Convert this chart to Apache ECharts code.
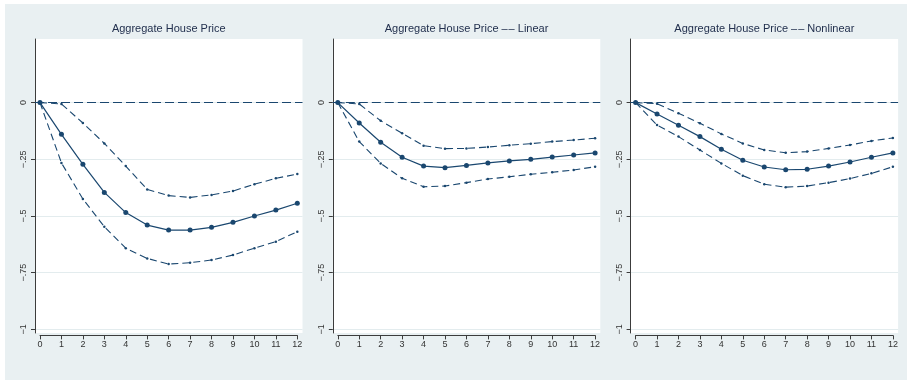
<!DOCTYPE html>
<html>
<head>
<meta charset="utf-8">
<script src="https://cdn.jsdelivr.net/npm/echarts@6/dist/echarts.min.js"></script>
<style>
  html, body { margin: 0; padding: 0; background: #ffffff; }
  #chart { width: 907px; height: 380px; }
</style>
</head>
<body>
<div id="chart"></div>
<script>
// Impulse responses of house prices, horizons 0..12
const horizons = [0, 1, 2, 3, 4, 5, 6, 7, 8, 9, 10, 11, 12];

const panelTitles = [
  'Aggregate House Price',
  'Aggregate House Price \u2013\u200a\u2013 Linear',
  'Aggregate House Price \u2013\u200a\u2013 Nonlinear'
];

// Aggregate
const aggIrf   = [0, -0.140, -0.272, -0.396, -0.485, -0.540, -0.562, -0.562, -0.550, -0.528, -0.500, -0.474, -0.444];
const aggUpper = [0, -0.006, -0.090, -0.180, -0.280, -0.383, -0.410, -0.418, -0.407, -0.390, -0.360, -0.334, -0.315];
const aggLower = [0, -0.266, -0.425, -0.547, -0.642, -0.687, -0.712, -0.706, -0.694, -0.672, -0.642, -0.613, -0.569];

// Linear
const linIrf   = [0, -0.090, -0.175, -0.241, -0.280, -0.287, -0.277, -0.266, -0.257, -0.250, -0.240, -0.231, -0.222];
const linUpper = [0, -0.006, -0.080, -0.135, -0.190, -0.203, -0.202, -0.196, -0.188, -0.181, -0.172, -0.165, -0.157];
const linLower = [0, -0.172, -0.268, -0.334, -0.371, -0.368, -0.353, -0.337, -0.327, -0.316, -0.307, -0.297, -0.283];

// Nonlinear
const nonIrf   = [0, -0.050, -0.100, -0.150, -0.206, -0.254, -0.284, -0.296, -0.294, -0.280, -0.262, -0.241, -0.222];
const nonUpper = [0, -0.005, -0.047, -0.091, -0.138, -0.180, -0.209, -0.221, -0.216, -0.202, -0.187, -0.169, -0.156];
const nonLower = [0, -0.099, -0.150, -0.209, -0.268, -0.322, -0.360, -0.373, -0.368, -0.353, -0.335, -0.312, -0.283];

const yTickStep = 0.25;
const yMin = -1;
const yMax = 0;

const panels = [
  { irf: aggIrf, upper: aggUpper, lower: aggLower },
  { irf: linIrf, upper: linUpper, lower: linLower },
  { irf: nonIrf, upper: nonUpper, lower: nonLower }
];

const NAVY = '#1a476f';
const AXIS = '#3c3c3c';
const GRIDLINE = '#e3ecee';
const FONT = 'Liberation Sans, Arial, sans-serif';

function fmtY(v) {
  if (v === 0) return '0';
  const s = String(Math.abs(v)).replace(/^0/, '');
  return (v < 0 ? '\u2212' : '') + s;
}

const pair = (ys) => horizons.map((h, i) => [h, ys[i]]);

const grid = [], xAxis = [], yAxis = [], series = [], title = [];

panels.forEach((p, k) => {
  const L = 35 + 297.8 * k;
  const W = 267.5;
  const base = grid.length;

  // white plot region with the vertical axis line
  grid.push({ left: L, top: 39, width: W, height: 294, show: true,
              backgroundColor: '#ffffff', borderWidth: 0 });
  // y ticks, labels and horizontal rules spanning the plot region
  grid.push({ left: L, top: 102.6, width: W, height: 226.8 });
  // data region: horizon 0..12
  grid.push({ left: L + 5, top: 102.6, width: 257.3, height: 226.8 });

  xAxis.push({ gridIndex: base, type: 'value', min: 0, max: 1, show: false });
  yAxis.push({ gridIndex: base, type: 'value', min: 0, max: 1,
               axisLine: { show: true, onZero: false, lineStyle: { color: AXIS, width: 1 } },
               axisTick: { show: false }, axisLabel: { show: false }, splitLine: { show: false } });

  xAxis.push({ gridIndex: base + 1, type: 'value', min: 0, max: 1, show: false });
  yAxis.push({ gridIndex: base + 1, type: 'value', min: yMin, max: yMax, interval: yTickStep,
               axisLine: { show: false, onZero: false },
               axisTick: { show: true, length: 4, lineStyle: { color: AXIS, width: 1 } },
               axisLabel: { show: true, rotate: 90, margin: 7, fontSize: 9, color: '#333',
                            fontFamily: FONT, formatter: fmtY },
               splitLine: { show: true, lineStyle: { color: GRIDLINE, width: 1 } } });

  xAxis.push({ gridIndex: base + 2, type: 'value', min: 0, max: 12, interval: 1, offset: 6,
               axisLine: { show: true, onZero: false, lineStyle: { color: AXIS, width: 1 } },
               axisTick: { show: true, length: 4, lineStyle: { color: AXIS, width: 1 } },
               axisLabel: { show: true, margin: 5, fontSize: 9, color: '#333', fontFamily: FONT },
               splitLine: { show: false } });
  yAxis.push({ gridIndex: base + 2, type: 'value', min: yMin, max: yMax, show: false });

  title.push({ text: panelTitles[k], left: L + W / 2, top: 23, textAlign: 'center', padding: 0,
               textStyle: { fontSize: 11, fontWeight: 'normal', color: '#22304e', fontFamily: FONT } });

  // zero reference line across the plot region
  const zeroStyle = { color: NAVY, width: 1.2, type: [9, 4], dashOffset: 0 };
  series.push({ type: 'line', xAxisIndex: base + 1, yAxisIndex: base + 1, data: [],
                silent: true,
                markLine: { silent: true, symbol: ['none', 'none'], label: { show: false },
                            lineStyle: zeroStyle,
                            emphasis: { disabled: true },
                            data: [{ yAxis: 0, lineStyle: zeroStyle }] } });

  const band = (ys) => ({
    type: 'line', xAxisIndex: base + 2, yAxisIndex: base + 2, data: pair(ys),
    symbol: 'circle', symbolSize: 2.5, silent: true,
    itemStyle: { color: NAVY },
    lineStyle: { color: NAVY, width: 1.1, type: [7, 4] }
  });
  series.push(band(p.upper));
  series.push(band(p.lower));
  series.push({
    type: 'line', xAxisIndex: base + 2, yAxisIndex: base + 2, data: pair(p.irf),
    symbol: 'circle', symbolSize: 5, silent: true,
    itemStyle: { color: NAVY },
    lineStyle: { color: NAVY, width: 1.2 }
  });
});

const chart = echarts.init(document.getElementById('chart'), null, { renderer: 'canvas' });
chart.setOption({
  animation: false,
  backgroundColor: '#ffffff',
  graphic: [{ type: 'rect', z: -10, silent: true,
              shape: { x: 5, y: 4, width: 902, height: 376 },
              style: { fill: '#e9f0f2' } }],
  title, grid, xAxis, yAxis, series
});
</script>
</body>
</html>
